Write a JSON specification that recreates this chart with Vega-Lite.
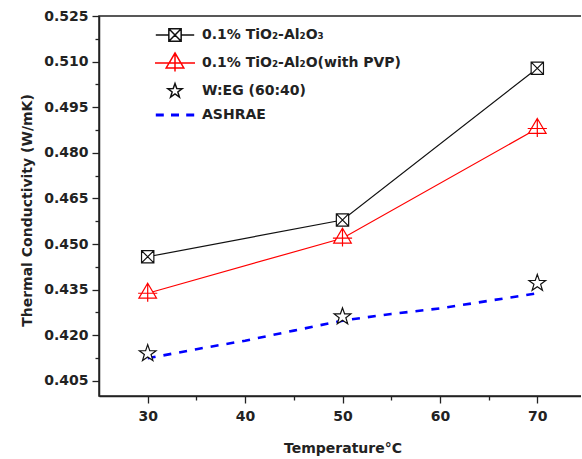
{
  "$schema": "https://vega.github.io/schema/vega-lite/v6.json",
  "width": 487,
  "height": 380,
  "autosize": {"type": "none"},
  "padding": {"left": 99, "top": 16, "right": -5, "bottom": 63},
  "background": "white",
  "config": {
    "font": "DejaVu Sans",
    "view": {"stroke": "#222", "strokeWidth": 1.5},
    "axis": {
      "grid": false,
      "domainColor": "#222",
      "domainWidth": 1.5,
      "tickColor": "#222",
      "tickWidth": 1.3,
      "labelColor": "#222",
      "labelFont": "DejaVu Sans",
      "labelFontWeight": "bold",
      "labelFontSize": 14,
      "titleColor": "#222",
      "titleFont": "DejaVu Sans",
      "titleFontWeight": "bold",
      "titleFontSize": 14
    }
  },
  "data": {
    "values": [
      {"series": "0.1% TiO₂-Al₂O₃", "temp": 30, "k": 0.4458},
      {"series": "0.1% TiO₂-Al₂O₃", "temp": 50, "k": 0.4579},
      {"series": "0.1% TiO₂-Al₂O₃", "temp": 70, "k": 0.5078},
      {"series": "0.1% TiO₂-Al₂O(with PVP)", "temp": 30, "k": 0.4338},
      {"series": "0.1% TiO₂-Al₂O(with PVP)", "temp": 50, "k": 0.4519},
      {"series": "0.1% TiO₂-Al₂O(with PVP)", "temp": 70, "k": 0.488},
      {"series": "W:EG (60:40)", "temp": 30, "k": 0.414},
      {"series": "W:EG (60:40)", "temp": 50, "k": 0.4261},
      {"series": "W:EG (60:40)", "temp": 70, "k": 0.4371},
      {"series": "ASHRAE", "temp": 30, "k": 0.4124},
      {"series": "ASHRAE", "temp": 35, "k": 0.4154},
      {"series": "ASHRAE", "temp": 40, "k": 0.4182},
      {"series": "ASHRAE", "temp": 45, "k": 0.4215},
      {"series": "ASHRAE", "temp": 50, "k": 0.4248},
      {"series": "ASHRAE", "temp": 55, "k": 0.427},
      {"series": "ASHRAE", "temp": 60, "k": 0.4288},
      {"series": "ASHRAE", "temp": 65, "k": 0.4313},
      {"series": "ASHRAE", "temp": 70, "k": 0.4338}
    ]
  },
  "encoding": {
    "x": {
      "field": "temp",
      "type": "quantitative",
      "scale": {"domain": [25, 75], "nice": false, "zero": false},
      "axis": {
        "title": "Temperature°C",
        "values": [30, 35, 40, 45, 50, 55, 60, 65, 70],
        "labelExpr": "datum.value % 10 === 0 ? datum.label : ''",
        "tickSize": {"condition": {"test": "datum.value % 10 === 0", "value": 7}, "value": 4},
        "labelPadding": 6,
        "titlePadding": 18
      }
    },
    "y": {
      "field": "k",
      "type": "quantitative",
      "scale": {"domain": [0.4, 0.525], "nice": false, "zero": false},
      "axis": {
        "title": "Thermal Conductivity (W/mK)",
        "values": [0.405, 0.4125, 0.42, 0.4275, 0.435, 0.4425, 0.45, 0.4575, 0.465, 0.4725, 0.48, 0.4875, 0.495, 0.5025, 0.51, 0.5175, 0.525],
        "labelExpr": "round(datum.value * 1000) % 15 === 0 ? format(datum.value, '.3f') : ''",
        "tickSize": {"condition": {"test": "round(datum.value * 1000) % 15 === 0", "value": 7}, "value": 4},
        "labelPadding": 4,
        "titlePadding": 9,
        "titleY": 194
      }
    }
  },
  "layer": [
    {
      "transform": [{"filter": {"field": "series", "oneOf": ["0.1% TiO₂-Al₂O₃", "0.1% TiO₂-Al₂O(with PVP)"]}}],
      "mark": {"type": "line", "strokeWidth": 1.2},
      "encoding": {
        "stroke": {
          "field": "series",
          "type": "nominal",
          "scale": {"domain": ["0.1% TiO₂-Al₂O₃", "0.1% TiO₂-Al₂O(with PVP)"], "range": ["#111111", "#ff0000"]},
          "legend": null
        }
      }
    },
    {
      "transform": [{"filter": "datum.series === 'ASHRAE'"}],
      "mark": {"type": "line", "stroke": "#0000ff", "strokeWidth": 2.6, "strokeDash": [8, 8]},
      "encoding": {}
    },
    {
      "transform": [{"filter": {"field": "series", "oneOf": ["0.1% TiO₂-Al₂O₃", "0.1% TiO₂-Al₂O(with PVP)", "W:EG (60:40)"]}}],
      "mark": {"type": "point", "filled": false, "fill": "white", "fillOpacity": 1, "opacity": 1, "strokeWidth": 1.2, "size": 256},
      "encoding": {
        "shape": {
          "field": "series",
          "type": "nominal",
          "scale": {
            "domain": ["0.1% TiO₂-Al₂O₃", "0.1% TiO₂-Al₂O(with PVP)", "W:EG (60:40)"],
            "range": [
              "M-0.77,-0.77H0.77V0.77H-0.77ZM-0.77,-0.77L0.77,0.77M0.77,-0.77L-0.77,0.77",
              "M0,-1.25L1.1,0.62L-1.1,0.62ZM0,-1.25V1.05M-1.2,0H1.2",
              "M0,-1.1L0.259,-0.356L1.046,-0.34L0.418,0.136L0.647,0.89L0,0.44L-0.647,0.89L-0.418,0.136L-1.046,-0.34L-0.259,-0.356Z"
            ]
          },
          "legend": null
        },
        "stroke": {
          "field": "series",
          "type": "nominal",
          "scale": {"domain": ["0.1% TiO₂-Al₂O₃", "0.1% TiO₂-Al₂O(with PVP)", "W:EG (60:40)"], "range": ["#111111", "#ff0000", "#111111"]},
          "legend": null
        }
      }
    },
    {
      "mark": {"type": "point", "filled": false, "opacity": 0, "strokeWidth": 1.2, "size": 256},
      "encoding": {
        "shape": {
          "field": "series",
          "type": "nominal",
          "scale": {
            "domain": ["0.1% TiO₂-Al₂O₃", "0.1% TiO₂-Al₂O(with PVP)", "W:EG (60:40)", "ASHRAE"],
            "range": [
              "M-2.4,0H-0.77M0.77,0H2.4M-0.77,-0.77H0.77V0.77H-0.77ZM-0.77,-0.77L0.77,0.77M0.77,-0.77L-0.77,0.77",
              "M-2.5,0H2.5M0,-1.25L1.1,0.62L-1.1,0.62ZM0,-1.25V1.05",
              "M0,-0.94L0.221,-0.305L0.894,-0.29L0.357,0.116L0.553,0.76L0,0.376L-0.553,0.76L-0.357,0.116L-0.894,-0.29L-0.221,-0.305Z",
              "M-2.4,-0.09H-1.4M-2.4,0.09H-1.4M-0.5,-0.09H0.5M-0.5,0.09H0.5M1.4,-0.09H2.4M1.4,0.09H2.4"
            ]
          },
          "legend": {
            "orient": "none",
            "legendX": 67,
            "legendY": 10,
            "title": null,
            "padding": 0,
            "symbolSize": 256,
            "labelOffset": 18,
            "rowPadding": 5,
            "labelFont": "DejaVu Sans",
            "labelFontWeight": "bold",
            "labelFontSize": 14,
            "labelColor": "#222",
            "labelLimit": 400,
            "encode": {
              "symbols": {
                "opacity": {"value": 1},
                "fill": {"value": "white"},
                "fillOpacity": {"value": 1}
              }
            }
          }
        },
        "stroke": {
          "field": "series",
          "type": "nominal",
          "scale": {"domain": ["0.1% TiO₂-Al₂O₃", "0.1% TiO₂-Al₂O(with PVP)", "W:EG (60:40)", "ASHRAE"], "range": ["#111111", "#ff0000", "#111111", "#0000ff"]},
          "legend": {
            "orient": "none",
            "legendX": 67,
            "legendY": 10,
            "title": null,
            "padding": 0,
            "symbolSize": 256,
            "labelOffset": 18,
            "rowPadding": 5,
            "labelFont": "DejaVu Sans",
            "labelFontWeight": "bold",
            "labelFontSize": 14,
            "labelColor": "#222",
            "labelLimit": 400,
            "encode": {
              "symbols": {
                "opacity": {"value": 1},
                "fill": {"value": "white"},
                "fillOpacity": {"value": 1}
              }
            }
          }
        }
      }
    }
  ],
  "resolve": {"scale": {"shape": "independent", "stroke": "independent"}}
}
